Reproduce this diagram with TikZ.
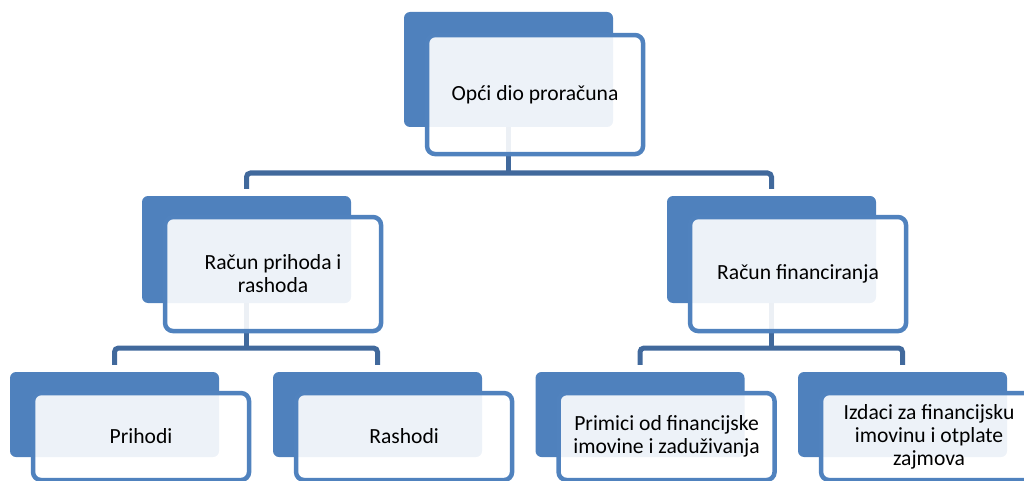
\documentclass[tikz,border=0pt]{standalone}
\usepackage{fontspec}
\setmainfont{Carlito}
\usetikzlibrary{positioning}
\definecolor{darkblue}{HTML}{4F81BD}
\definecolor{boxblue}{HTML}{5082BE}
\definecolor{connblue}{HTML}{41699C}
\newcommand{\boxfont}{\fontsize{21.6}{23}\selectfont}
\tikzset {
  % dark card behind each item
  back/.style = {
    fill = darkblue,
    rounded corners = 6pt,
    inner sep = 0,
    minimum width = 209pt
  },
  % light framed card with the text
  front/.style = {
    draw = boxblue,
    line width = 4.5pt,
    fill = white,
    fill opacity = 0.9,
    text opacity = 1,
    rounded corners = 8pt,
    inner sep = 0,
    minimum width = 216pt,
    anchor = north west,
    align = center,
    font = \boxfont
  },
  % tree connector
  conn/.style = {
    draw = connblue,
    line width = 5pt,
    rounded corners = 4pt
  }
}
\begin{document}
\begin{tikzpicture}[x=1pt, y=-1pt]
    \useasboundingbox (0,0) rectangle (1024,481);

    % dark cards
    \node[back, minimum height = 115pt] (opci-back) at (508.5,69.5) {};
    \node[back, minimum height = 107pt] (prih-rash-back) at (246.5,249.5) {};
    \node[back, minimum height = 107pt] (fin-back) at (771.5,249.5) {};
    \node[back, minimum height = 85pt] (prihodi-back) at (114.5,414.5) {};
    \node[back, minimum height = 85pt] (rashodi-back) at (377.5,414.5) {};
    \node[back, minimum height = 85pt] (primici-back) at (640,414.5) {};
    \node[back, minimum height = 85pt] (izdaci-back) at (902.5,414.5) {};

    % connectors
    \coordinate (opci-fork) at (508.5,173);
    \coordinate (prih-rash-fork) at (246.5,348);
    \coordinate (fin-fork) at (771.5,348);

    \draw[conn] (opci-back.south) -- (opci-fork);
    \draw[conn] ([yshift=7pt]prih-rash-back.north)
      |- (opci-fork)
      -| ([yshift=7pt]fin-back.north);

    \draw[conn] (prih-rash-back.south) -- (prih-rash-fork);
    \draw[conn] ([yshift=7pt]prihodi-back.north)
      |- (prih-rash-fork)
      -| ([yshift=7pt]rashodi-back.north);

    \draw[conn] (fin-back.south) -- (fin-fork);
    \draw[conn] ([yshift=7pt]primici-back.north)
      |- (fin-fork)
      -| ([yshift=7pt]izdaci-back.north);

    % framed cards
    \node[front, minimum height = 119pt] (opci)
      at ([xshift=21pt, yshift=-21pt]opci-back.north west) {Opći dio proračuna};
    \node[front, minimum height = 114pt] (prih-rash)
      at ([xshift=21pt, yshift=-19pt]prih-rash-back.north west) {Račun prihoda i\\rashoda};
    \node[front, minimum height = 114pt] (fin)
      at ([xshift=21pt, yshift=-19pt]fin-back.north west) {Račun financiranja};
    \node[front, minimum height = 87pt] (prihodi)
      at ([xshift=21pt, yshift=-19pt]prihodi-back.north west) {Prihodi};
    \node[front, minimum height = 87pt] (rashodi)
      at ([xshift=21pt, yshift=-19pt]rashodi-back.north west) {Rashodi};
    \node[front, minimum height = 87pt] (primici)
      at ([xshift=21pt, yshift=-19pt]primici-back.north west) {Primici od financijske\\imovine i zaduživanja};
    \node[front, minimum height = 87pt] (izdaci)
      at ([xshift=21pt, yshift=-19pt]izdaci-back.north west) {Izdaci za financijsku\\imovinu i otplate\\zajmova};
\end{tikzpicture}
\end{document}
